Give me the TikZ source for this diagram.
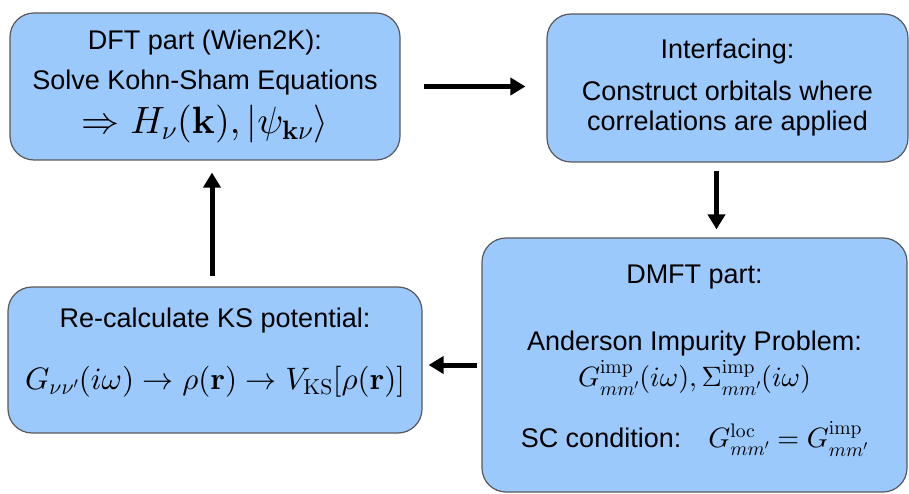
\documentclass[tikz,border=0pt]{standalone}
\usepackage[no-math]{fontspec}
\setmainfont{Liberation Sans}
\usetikzlibrary{arrows.meta}
\DeclareFontShape{OML}{cmm}{m}{it}{<-8>cmmi7<8->cmmi10}{\skewchar\font=127}
\DeclareFontShape{OMS}{cmsy}{m}{n}{<-8>cmsy7<8->cmsy10}{\skewchar\font=48}
\DeclareFontShape{OMX}{cmex}{m}{n}{<->cmex10}{}
\DeclareFontShape{OT1}{cmr}{m}{n}{<-8>cmr7<8->cmr10}{}
\DeclareFontShape{OT1}{cmr}{bx}{n}{<-8>cmbx7<8->cmbx10}{}
\definecolor{boxblue}{RGB}{155,201,252}
\newcommand{\bigmath}[2][31]{{\fontsize{#1}{#1}\selectfont$#2$}}

\begin{document}
\begin{tikzpicture}[x=1pt, y=-1pt,
    stage/.style={draw=black!65, line width=1.2pt, fill=boxblue, rounded corners=24pt,
        align=center, inner sep=0pt, font=\fontsize{27}{32}\selectfont},
    flow/.style={-{Triangle[length=15pt,width=17pt]}, line width=5pt}]
    \useasboundingbox (0,0) rectangle (909,494);

    \node[stage, minimum width=390pt, minimum height=147pt] (dft) at (205,86.5)
        {DFT part (Wien2K):\\[8pt] Solve Kohn-Sham Equations\\[9pt]
         \bigmath[38]{\Rightarrow H_\nu(\mathbf{k}), |\psi_{\mathbf{k}\nu}\rangle}};
    \node[stage, minimum width=361pt, minimum height=148pt] (intf) at (727.5,88)
        {Interfacing:\\[10pt] Construct orbitals where\\[-2pt] correlations are applied};
    \node[stage, minimum width=425pt, minimum height=254pt] (dmft) at (694.5,365)
        {DMFT part:\\[35pt] Anderson Impurity Problem:\\[3pt]
         \bigmath[28]{G^{\mathrm{imp}}_{mm'}(i\omega), \Sigma^{\mathrm{imp}}_{mm'}(i\omega)}\\[25pt]
         SC condition:\quad \bigmath[28]{G^{\mathrm{loc}}_{mm'} = G^{\mathrm{imp}}_{mm'}}\\[-15pt]\mbox{}};
    \node[stage, minimum width=414pt, minimum height=146pt] (recalc) at (215,360)
        {Re-calculate KS potential:\\[30pt]
         \bigmath{G_{\nu\nu'}(i\omega) \rightarrow \rho(\mathbf{r}) \rightarrow V_{\mathrm{KS}}[\rho(\mathbf{r})]}\\[-10pt]\mbox{}};

    \draw[flow, shorten <=23pt, shorten >=21pt] (dft.east) -- (dft.east -| intf.west);
    \draw[flow, shorten <=8pt, shorten >=8pt] ([xshift=-11pt]intf.south) -- ([xshift=-11pt]intf.south |- dmft.north);
    \draw[flow, shorten <=4pt, shorten >=6pt] (dmft.west) -- (dmft.west -| recalc.east);
    \draw[flow, shorten <=10pt, shorten >=12pt] ([xshift=-3pt]recalc.north) -- ([xshift=-3pt]recalc.north |- dft.south);
\end{tikzpicture}
\end{document}
